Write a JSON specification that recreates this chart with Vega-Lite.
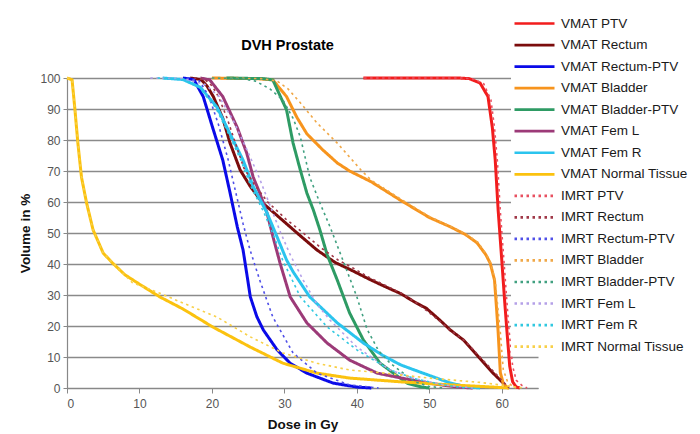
{
"$schema": "https://vega.github.io/schema/vega-lite/v6.json",
"autosize": "none",
"width": 471,
"height": 310,
"padding": {"left": 67, "top": 78, "right": 162, "bottom": 46},
"background": "white",
"title": {"text": "DVH Prostate", "fontSize": 14.5, "font": "Liberation Sans", "fontWeight": "bold", "color": "#000", "dx": -15, "offset": -43, "anchor": "middle"},
"config": {
  "view": {"stroke": null},
  "font": "Liberation Sans"
},
"data": {"values": [
{"s":"VMAT PTV","d":40.9,"v":100},{"s":"VMAT PTV","d":54,"v":100},{"s":"VMAT PTV","d":55.5,"v":99.8},{"s":"VMAT PTV","d":57,"v":98.4},{"s":"VMAT PTV","d":58.1,"v":94},{"s":"VMAT PTV","d":58.7,"v":84},{"s":"VMAT PTV","d":59.1,"v":73.5},{"s":"VMAT PTV","d":59.5,"v":57.4},{"s":"VMAT PTV","d":60,"v":41.3},{"s":"VMAT PTV","d":60.4,"v":28},{"s":"VMAT PTV","d":60.7,"v":18.7},{"s":"VMAT PTV","d":61.1,"v":7},{"s":"VMAT PTV","d":61.5,"v":2},{"s":"VMAT PTV","d":62,"v":0.3},{"s":"VMAT PTV","d":62.5,"v":0},
{"s":"VMAT Rectum","d":17,"v":100},{"s":"VMAT Rectum","d":18.5,"v":99.5},{"s":"VMAT Rectum","d":19.3,"v":97.5},{"s":"VMAT Rectum","d":20.2,"v":94},{"s":"VMAT Rectum","d":21.5,"v":87},{"s":"VMAT Rectum","d":22.5,"v":79},{"s":"VMAT Rectum","d":23.9,"v":70.3},{"s":"VMAT Rectum","d":25.3,"v":65},{"s":"VMAT Rectum","d":27,"v":59.7},{"s":"VMAT Rectum","d":29.8,"v":54},{"s":"VMAT Rectum","d":32,"v":49.5},{"s":"VMAT Rectum","d":34.5,"v":44.5},{"s":"VMAT Rectum","d":37,"v":40.5},{"s":"VMAT Rectum","d":39,"v":38.3},{"s":"VMAT Rectum","d":41.8,"v":35},{"s":"VMAT Rectum","d":44,"v":32.6},{"s":"VMAT Rectum","d":46,"v":30.5},{"s":"VMAT Rectum","d":48.3,"v":27.3},{"s":"VMAT Rectum","d":49.6,"v":25.7},{"s":"VMAT Rectum","d":51.5,"v":21.8},{"s":"VMAT Rectum","d":52.9,"v":18.7},{"s":"VMAT Rectum","d":54.7,"v":15.5},{"s":"VMAT Rectum","d":57,"v":9.5},{"s":"VMAT Rectum","d":58.8,"v":4.8},{"s":"VMAT Rectum","d":60.2,"v":1.6},{"s":"VMAT Rectum","d":60.7,"v":0},
{"s":"VMAT Rectum-PTV","d":16,"v":100},{"s":"VMAT Rectum-PTV","d":17.5,"v":99.5},{"s":"VMAT Rectum-PTV","d":18.8,"v":94},{"s":"VMAT Rectum-PTV","d":20.1,"v":84},{"s":"VMAT Rectum-PTV","d":21.5,"v":73.5},{"s":"VMAT Rectum-PTV","d":22.5,"v":63},{"s":"VMAT Rectum-PTV","d":23.5,"v":52},{"s":"VMAT Rectum-PTV","d":24.3,"v":44.5},{"s":"VMAT Rectum-PTV","d":24.8,"v":37},{"s":"VMAT Rectum-PTV","d":25.3,"v":29.4},{"s":"VMAT Rectum-PTV","d":26.2,"v":23},{"s":"VMAT Rectum-PTV","d":27.1,"v":18.7},{"s":"VMAT Rectum-PTV","d":29,"v":12.3},{"s":"VMAT Rectum-PTV","d":30.8,"v":8},{"s":"VMAT Rectum-PTV","d":33.1,"v":4.8},{"s":"VMAT Rectum-PTV","d":36.7,"v":1.6},{"s":"VMAT Rectum-PTV","d":40,"v":0.3},{"s":"VMAT Rectum-PTV","d":42,"v":0},
{"s":"VMAT Bladder","d":20,"v":100},{"s":"VMAT Bladder","d":26,"v":99.8},{"s":"VMAT Bladder","d":28.4,"v":99.4},{"s":"VMAT Bladder","d":30.3,"v":94},{"s":"VMAT Bladder","d":31.7,"v":87.4},{"s":"VMAT Bladder","d":33.1,"v":82},{"s":"VMAT Bladder","d":35.3,"v":76.8},{"s":"VMAT Bladder","d":37.3,"v":72.6},{"s":"VMAT Bladder","d":39,"v":70},{"s":"VMAT Bladder","d":42,"v":66.5},{"s":"VMAT Bladder","d":46,"v":60.6},{"s":"VMAT Bladder","d":50,"v":55},{"s":"VMAT Bladder","d":52.9,"v":52},{"s":"VMAT Bladder","d":55,"v":49.5},{"s":"VMAT Bladder","d":56.6,"v":46.8},{"s":"VMAT Bladder","d":57.8,"v":43},{"s":"VMAT Bladder","d":58.4,"v":40.3},{"s":"VMAT Bladder","d":59,"v":34.8},{"s":"VMAT Bladder","d":59.3,"v":25},{"s":"VMAT Bladder","d":59.5,"v":18},{"s":"VMAT Bladder","d":59.8,"v":5},{"s":"VMAT Bladder","d":60.2,"v":1.5},{"s":"VMAT Bladder","d":60.7,"v":0.3},{"s":"VMAT Bladder","d":61,"v":0},
{"s":"VMAT Bladder-PTV","d":22,"v":100},{"s":"VMAT Bladder-PTV","d":27,"v":99.8},{"s":"VMAT Bladder-PTV","d":28.4,"v":99.4},{"s":"VMAT Bladder-PTV","d":30.3,"v":89.7},{"s":"VMAT Bladder-PTV","d":31.2,"v":79},{"s":"VMAT Bladder-PTV","d":32.2,"v":70.3},{"s":"VMAT Bladder-PTV","d":33.1,"v":62.9},{"s":"VMAT Bladder-PTV","d":34,"v":57.4},{"s":"VMAT Bladder-PTV","d":34.9,"v":51},{"s":"VMAT Bladder-PTV","d":35.9,"v":43},{"s":"VMAT Bladder-PTV","d":37.3,"v":34.8},{"s":"VMAT Bladder-PTV","d":39,"v":24.2},{"s":"VMAT Bladder-PTV","d":40.9,"v":15.5},{"s":"VMAT Bladder-PTV","d":43.2,"v":8},{"s":"VMAT Bladder-PTV","d":45.5,"v":4},{"s":"VMAT Bladder-PTV","d":47,"v":1.5},{"s":"VMAT Bladder-PTV","d":49,"v":0.3},{"s":"VMAT Bladder-PTV","d":50,"v":0},
{"s":"VMAT Fem L","d":18.4,"v":100},{"s":"VMAT Fem L","d":19.7,"v":99.4},{"s":"VMAT Fem L","d":21.5,"v":94},{"s":"VMAT Fem L","d":23.5,"v":84},{"s":"VMAT Fem L","d":24.8,"v":75.8},{"s":"VMAT Fem L","d":25.7,"v":68},{"s":"VMAT Fem L","d":26.6,"v":62.9},{"s":"VMAT Fem L","d":27.6,"v":56.5},{"s":"VMAT Fem L","d":28.4,"v":49},{"s":"VMAT Fem L","d":29.4,"v":40.3},{"s":"VMAT Fem L","d":30.8,"v":29.4},{"s":"VMAT Fem L","d":33.1,"v":21},{"s":"VMAT Fem L","d":35.9,"v":14.5},{"s":"VMAT Fem L","d":39,"v":9},{"s":"VMAT Fem L","d":42.8,"v":4.8},{"s":"VMAT Fem L","d":45.5,"v":3.5},{"s":"VMAT Fem L","d":50,"v":1.5},{"s":"VMAT Fem L","d":54,"v":0.3},{"s":"VMAT Fem L","d":56,"v":0},
{"s":"VMAT Fem R","d":13.2,"v":100},{"s":"VMAT Fem R","d":16,"v":99.5},{"s":"VMAT Fem R","d":18.4,"v":97},{"s":"VMAT Fem R","d":20.7,"v":90.6},{"s":"VMAT Fem R","d":22.5,"v":82},{"s":"VMAT Fem R","d":24.3,"v":73.5},{"s":"VMAT Fem R","d":25.7,"v":65},{"s":"VMAT Fem R","d":27.6,"v":56.5},{"s":"VMAT Fem R","d":29,"v":48.7},{"s":"VMAT Fem R","d":30.3,"v":41.3},{"s":"VMAT Fem R","d":31.2,"v":37.5},{"s":"VMAT Fem R","d":33.5,"v":29.4},{"s":"VMAT Fem R","d":37.3,"v":21},{"s":"VMAT Fem R","d":40.9,"v":14.5},{"s":"VMAT Fem R","d":43.6,"v":10.5},{"s":"VMAT Fem R","d":46,"v":7.5},{"s":"VMAT Fem R","d":48.3,"v":5.5},{"s":"VMAT Fem R","d":52.9,"v":1.6},{"s":"VMAT Fem R","d":55,"v":0.5},{"s":"VMAT Fem R","d":57,"v":0},
{"s":"VMAT Normal Tissue","d":0,"v":100},{"s":"VMAT Normal Tissue","d":0.7,"v":99.4},{"s":"VMAT Normal Tissue","d":1.1,"v":89.7},{"s":"VMAT Normal Tissue","d":1.5,"v":79},{"s":"VMAT Normal Tissue","d":2,"v":68},{"s":"VMAT Normal Tissue","d":2.7,"v":59.7},{"s":"VMAT Normal Tissue","d":3.6,"v":51},{"s":"VMAT Normal Tissue","d":5,"v":43.5},{"s":"VMAT Normal Tissue","d":6.3,"v":40.3},{"s":"VMAT Normal Tissue","d":8,"v":36.5},{"s":"VMAT Normal Tissue","d":10,"v":33.5},{"s":"VMAT Normal Tissue","d":12.8,"v":29.4},{"s":"VMAT Normal Tissue","d":16,"v":25.5},{"s":"VMAT Normal Tissue","d":20.1,"v":19.7},{"s":"VMAT Normal Tissue","d":25.3,"v":13.2},{"s":"VMAT Normal Tissue","d":29.8,"v":8},{"s":"VMAT Normal Tissue","d":34.5,"v":4.8},{"s":"VMAT Normal Tissue","d":39,"v":3.2},{"s":"VMAT Normal Tissue","d":46,"v":2},{"s":"VMAT Normal Tissue","d":52.9,"v":1},{"s":"VMAT Normal Tissue","d":58,"v":0.4},{"s":"VMAT Normal Tissue","d":61,"v":0},
{"s":"IMRT PTV","d":41,"v":100},{"s":"IMRT PTV","d":54.5,"v":100},{"s":"IMRT PTV","d":56,"v":99.7},{"s":"IMRT PTV","d":57.5,"v":98.2},{"s":"IMRT PTV","d":58.5,"v":93},{"s":"IMRT PTV","d":59,"v":84},{"s":"IMRT PTV","d":59.4,"v":73},{"s":"IMRT PTV","d":59.8,"v":57},{"s":"IMRT PTV","d":60.3,"v":41},{"s":"IMRT PTV","d":60.7,"v":28},{"s":"IMRT PTV","d":61,"v":18.7},{"s":"IMRT PTV","d":61.5,"v":7},{"s":"IMRT PTV","d":62,"v":2.5},{"s":"IMRT PTV","d":62.8,"v":0.8},{"s":"IMRT PTV","d":63.5,"v":0},
{"s":"IMRT Rectum","d":17.5,"v":100},{"s":"IMRT Rectum","d":19,"v":99.5},{"s":"IMRT Rectum","d":20,"v":97.5},{"s":"IMRT Rectum","d":20.9,"v":94},{"s":"IMRT Rectum","d":22.1,"v":87},{"s":"IMRT Rectum","d":23.1,"v":80},{"s":"IMRT Rectum","d":24.4,"v":71},{"s":"IMRT Rectum","d":25.9,"v":65.5},{"s":"IMRT Rectum","d":27.7,"v":60},{"s":"IMRT Rectum","d":30.2,"v":54.5},{"s":"IMRT Rectum","d":32.6,"v":50},{"s":"IMRT Rectum","d":35,"v":45.3},{"s":"IMRT Rectum","d":37.4,"v":41.3},{"s":"IMRT Rectum","d":39.4,"v":38.8},{"s":"IMRT Rectum","d":42,"v":35.3},{"s":"IMRT Rectum","d":44.2,"v":32.8},{"s":"IMRT Rectum","d":46.2,"v":30.5},{"s":"IMRT Rectum","d":48.5,"v":27},{"s":"IMRT Rectum","d":50.8,"v":22.8},{"s":"IMRT Rectum","d":53,"v":18.5},{"s":"IMRT Rectum","d":55,"v":15},{"s":"IMRT Rectum","d":57.2,"v":9.5},{"s":"IMRT Rectum","d":59,"v":5},{"s":"IMRT Rectum","d":60.2,"v":2},{"s":"IMRT Rectum","d":61,"v":0},
{"s":"IMRT Rectum-PTV","d":16.5,"v":100},{"s":"IMRT Rectum-PTV","d":18.3,"v":99},{"s":"IMRT Rectum-PTV","d":19.6,"v":94},{"s":"IMRT Rectum-PTV","d":20.9,"v":85},{"s":"IMRT Rectum-PTV","d":22.2,"v":74},{"s":"IMRT Rectum-PTV","d":23.3,"v":63},{"s":"IMRT Rectum-PTV","d":24.3,"v":53},{"s":"IMRT Rectum-PTV","d":25.2,"v":45},{"s":"IMRT Rectum-PTV","d":26.6,"v":34.8},{"s":"IMRT Rectum-PTV","d":28.4,"v":22.9},{"s":"IMRT Rectum-PTV","d":31.2,"v":11.3},{"s":"IMRT Rectum-PTV","d":34.5,"v":4.8},{"s":"IMRT Rectum-PTV","d":39,"v":1},{"s":"IMRT Rectum-PTV","d":43,"v":0},
{"s":"IMRT Bladder","d":20,"v":100},{"s":"IMRT Bladder","d":27,"v":99.8},{"s":"IMRT Bladder","d":29,"v":99},{"s":"IMRT Bladder","d":30.5,"v":96.5},{"s":"IMRT Bladder","d":32.2,"v":92},{"s":"IMRT Bladder","d":34.5,"v":85.5},{"s":"IMRT Bladder","d":37.3,"v":79},{"s":"IMRT Bladder","d":39,"v":74.5},{"s":"IMRT Bladder","d":40.5,"v":70.5},{"s":"IMRT Bladder","d":42,"v":67},{"s":"IMRT Bladder","d":46,"v":61},{"s":"IMRT Bladder","d":50,"v":55.3},{"s":"IMRT Bladder","d":53,"v":52},{"s":"IMRT Bladder","d":55,"v":49.7},{"s":"IMRT Bladder","d":56.7,"v":47},{"s":"IMRT Bladder","d":57.9,"v":43},{"s":"IMRT Bladder","d":58.5,"v":40},{"s":"IMRT Bladder","d":59.1,"v":34.5},{"s":"IMRT Bladder","d":59.5,"v":25},{"s":"IMRT Bladder","d":59.8,"v":18},{"s":"IMRT Bladder","d":60.2,"v":6},{"s":"IMRT Bladder","d":60.8,"v":2},{"s":"IMRT Bladder","d":61.5,"v":0.5},{"s":"IMRT Bladder","d":62,"v":0},
{"s":"IMRT Bladder-PTV","d":20,"v":100},{"s":"IMRT Bladder-PTV","d":24,"v":99.8},{"s":"IMRT Bladder-PTV","d":26,"v":99},{"s":"IMRT Bladder-PTV","d":28,"v":96.5},{"s":"IMRT Bladder-PTV","d":29.8,"v":92.9},{"s":"IMRT Bladder-PTV","d":31.2,"v":87},{"s":"IMRT Bladder-PTV","d":32.2,"v":81},{"s":"IMRT Bladder-PTV","d":33.5,"v":68},{"s":"IMRT Bladder-PTV","d":34.9,"v":59.7},{"s":"IMRT Bladder-PTV","d":36.3,"v":52},{"s":"IMRT Bladder-PTV","d":37.7,"v":43.5},{"s":"IMRT Bladder-PTV","d":38.6,"v":38},{"s":"IMRT Bladder-PTV","d":40,"v":29.4},{"s":"IMRT Bladder-PTV","d":41.4,"v":19},{"s":"IMRT Bladder-PTV","d":43,"v":12},{"s":"IMRT Bladder-PTV","d":44.6,"v":8},{"s":"IMRT Bladder-PTV","d":46,"v":5.5},{"s":"IMRT Bladder-PTV","d":48,"v":2},{"s":"IMRT Bladder-PTV","d":50,"v":0.5},{"s":"IMRT Bladder-PTV","d":52,"v":0},
{"s":"IMRT Fem L","d":11.5,"v":100},{"s":"IMRT Fem L","d":16,"v":99.8},{"s":"IMRT Fem L","d":19,"v":98},{"s":"IMRT Fem L","d":21,"v":94},{"s":"IMRT Fem L","d":23,"v":86},{"s":"IMRT Fem L","d":25,"v":76},{"s":"IMRT Fem L","d":26.5,"v":68},{"s":"IMRT Fem L","d":28,"v":59},{"s":"IMRT Fem L","d":29.5,"v":50},{"s":"IMRT Fem L","d":30.8,"v":43},{"s":"IMRT Fem L","d":32.6,"v":34.8},{"s":"IMRT Fem L","d":34.5,"v":27},{"s":"IMRT Fem L","d":36.3,"v":21.9},{"s":"IMRT Fem L","d":40,"v":13.2},{"s":"IMRT Fem L","d":44.6,"v":5.8},{"s":"IMRT Fem L","d":48,"v":3},{"s":"IMRT Fem L","d":52,"v":1},{"s":"IMRT Fem L","d":56,"v":0},
{"s":"IMRT Fem R","d":12.5,"v":100},{"s":"IMRT Fem R","d":16,"v":99.5},{"s":"IMRT Fem R","d":18.2,"v":97},{"s":"IMRT Fem R","d":20.5,"v":90.5},{"s":"IMRT Fem R","d":22.3,"v":82},{"s":"IMRT Fem R","d":24,"v":73.5},{"s":"IMRT Fem R","d":25.4,"v":65},{"s":"IMRT Fem R","d":27.2,"v":56.5},{"s":"IMRT Fem R","d":28.6,"v":48.7},{"s":"IMRT Fem R","d":29.8,"v":41},{"s":"IMRT Fem R","d":32.2,"v":29.4},{"s":"IMRT Fem R","d":35.9,"v":19.7},{"s":"IMRT Fem R","d":40,"v":12.3},{"s":"IMRT Fem R","d":44.6,"v":5.8},{"s":"IMRT Fem R","d":48,"v":3},{"s":"IMRT Fem R","d":52,"v":1},{"s":"IMRT Fem R","d":55,"v":0},
{"s":"IMRT Normal Tissue","d":0,"v":100},{"s":"IMRT Normal Tissue","d":0.7,"v":99.4},{"s":"IMRT Normal Tissue","d":1.1,"v":89.7},{"s":"IMRT Normal Tissue","d":1.5,"v":79},{"s":"IMRT Normal Tissue","d":2,"v":68},{"s":"IMRT Normal Tissue","d":2.7,"v":59.7},{"s":"IMRT Normal Tissue","d":3.6,"v":51},{"s":"IMRT Normal Tissue","d":5,"v":43.5},{"s":"IMRT Normal Tissue","d":6.9,"v":39},{"s":"IMRT Normal Tissue","d":9,"v":34},{"s":"IMRT Normal Tissue","d":12.8,"v":30.6},{"s":"IMRT Normal Tissue","d":16,"v":27.4},{"s":"IMRT Normal Tissue","d":20.7,"v":22.9},{"s":"IMRT Normal Tissue","d":25.3,"v":16.5},{"s":"IMRT Normal Tissue","d":29.8,"v":11.3},{"s":"IMRT Normal Tissue","d":34.5,"v":8},{"s":"IMRT Normal Tissue","d":39,"v":5.8},{"s":"IMRT Normal Tissue","d":43,"v":5},{"s":"IMRT Normal Tissue","d":50,"v":3.2},{"s":"IMRT Normal Tissue","d":57,"v":1.8},{"s":"IMRT Normal Tissue","d":60.5,"v":0.8},{"s":"IMRT Normal Tissue","d":63,"v":0}
]},
"mark": {"type": "line"},
"encoding": {
  "x": {"field": "d", "type": "quantitative",
    "scale": {"domain": [0, 65], "nice": false, "zero": false},
    "axis": {"title": "Dose in Gy", "values": [0,10,20,30,40,50,60], "grid": false,
      "domainColor": "#888", "domainWidth": 1.2, "tickColor": "#888", "tickSize": 5,
      "labelFont": "Liberation Sans", "labelFontSize": 12, "labelColor": "#555", "labelPadding": 5,
      "titleFont": "Liberation Sans", "titleFontSize": 13.5, "titleFontWeight": "bold", "titleColor": "#111", "titlePadding": 8}},
  "y": {"field": "v", "type": "quantitative",
    "scale": {"domain": [0, 100], "nice": false},
    "axis": {"title": "Volume in %", "values": [0,10,20,30,40,50,60,70,80,90,100],
      "grid": true, "gridColor": "#8a8a8a", "gridWidth": 1.3,
      "domainColor": "#888", "domainWidth": 1.2, "tickColor": "#888", "tickSize": 4,
      "labelFont": "Liberation Sans", "labelFontSize": 12, "labelColor": "#555", "labelPadding": 3,
      "titleFont": "Liberation Sans", "titleFontSize": 13.5, "titleFontWeight": "bold", "titleColor": "#111", "titlePadding": 7}},
  "color": {"field": "s", "type": "nominal",
    "scale": {
      "domain": ["VMAT PTV","VMAT Rectum","VMAT Rectum-PTV","VMAT Bladder","VMAT Bladder-PTV","VMAT Fem L","VMAT Fem R","VMAT Normal Tissue","IMRT PTV","IMRT Rectum","IMRT Rectum-PTV","IMRT Bladder","IMRT Bladder-PTV","IMRT Fem L","IMRT Fem R","IMRT Normal Tissue"],
      "range": ["#f21d1d","#7b0c0c","#0a0ae8","#f7941d","#2e9b64","#9c3a78","#2bc4ee","#fbc20f","#e85060","#a03848","#5050e8","#f0a848","#40a080","#b4a0e8","#30c8e0","#f8d048"]},
    "legend": {"title": null, "orient": "none", "legendX": 444, "legendY": -68, "padding": 2, "fillColor": "white",
      "symbolType": "M-1,0H3", "symbolSize": 400, "symbolStrokeWidth": 2.7, "rowPadding": 3.54,
      "labelFont": "Liberation Sans", "labelFontSize": 13.5, "labelColor": "#1a1a1a", "labelOffset": 25, "labelLimit": 200}},
  "strokeDash": {"field": "s", "type": "nominal",
    "scale": {
      "domain": ["VMAT PTV","VMAT Rectum","VMAT Rectum-PTV","VMAT Bladder","VMAT Bladder-PTV","VMAT Fem L","VMAT Fem R","VMAT Normal Tissue","IMRT PTV","IMRT Rectum","IMRT Rectum-PTV","IMRT Bladder","IMRT Bladder-PTV","IMRT Fem L","IMRT Fem R","IMRT Normal Tissue"],
      "range": [[1,0],[1,0],[1,0],[1,0],[1,0],[1,0],[1,0],[1,0],[2.5,3.5],[2.5,3.5],[2.5,3.5],[2.5,3.5],[2.5,3.5],[2.5,3.5],[2.5,3.5],[2.5,3.5]]},
    "legend": {"title": null, "orient": "none", "legendX": 444, "legendY": -68, "padding": 2, "fillColor": "white",
      "symbolType": "M-1,0H3", "symbolSize": 400, "symbolStrokeWidth": 2.7, "rowPadding": 3.54,
      "labelFont": "Liberation Sans", "labelFontSize": 13.5, "labelColor": "#1a1a1a", "labelOffset": 25, "labelLimit": 200}},
  "strokeWidth": {"condition": {"test": "indexof(datum.s, 'IMRT') === 0", "value": 1.6}, "value": 3}
}
}
